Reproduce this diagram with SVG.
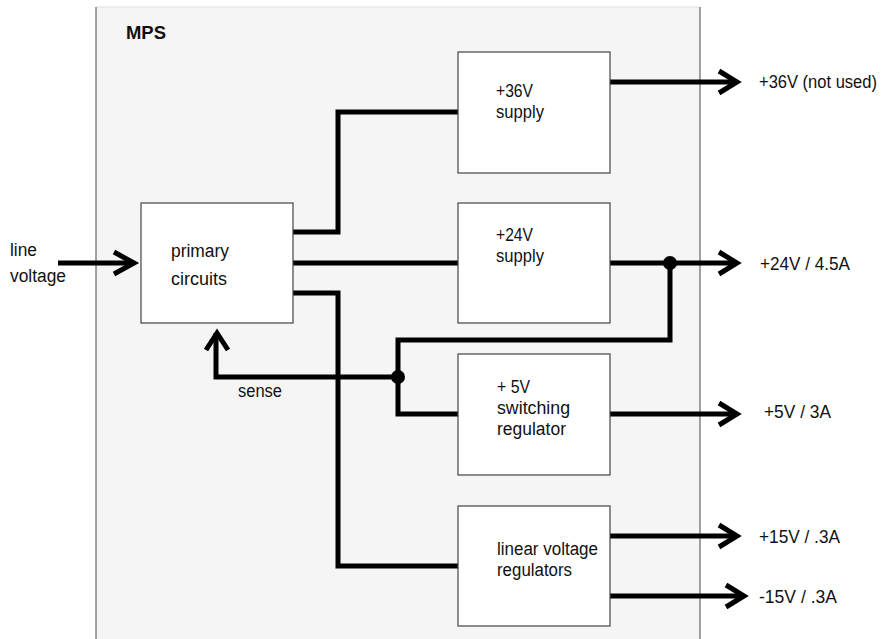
<svg xmlns="http://www.w3.org/2000/svg" width="889" height="639" viewBox="0 0 889 639">
<style>
.box{fill:#fff;stroke:#444;stroke-width:1.2}
.w{fill:none;stroke:#000;stroke-width:5;stroke-linejoin:miter}
.ah{fill:none;stroke:#000;stroke-width:5;stroke-linejoin:miter;stroke-linecap:butt}
text{font-family:"Liberation Sans",Arial,sans-serif;font-size:18px;fill:#111}
.b{font-weight:bold}
</style>
<rect width="889" height="639" fill="#fff"/>
<g id="mps">
<rect x="96" y="7" width="604" height="640" fill="#f5f5f5"/>
<line x1="96" y1="7" x2="700" y2="7" stroke="#ddd" stroke-width="1"/>
<line x1="96" y1="7" x2="96" y2="639" stroke="#666" stroke-width="1.2"/>
<line x1="700" y1="7" x2="700" y2="639" stroke="#666" stroke-width="1.2"/>
<text class="b" x="126" y="39" textLength="40" lengthAdjust="spacingAndGlyphs">MPS</text>
</g>
<g id="connectors">
<polyline class="w" points="58,263 134,263"/>
<polyline class="ah" points="114,252 134,263 114,274"/>
<polyline class="w" points="293,232 338,232 338,112 458,112"/>
<polyline class="w" points="293,263 458,263"/>
<polyline class="w" points="293,293 338,293 338,566 458,566"/>
<polyline class="w" points="610,82 737,82"/>
<polyline class="ah" points="719,71 737,82 719,93"/>
<polyline class="w" points="610,263 737,263"/>
<polyline class="ah" points="719,252 737,263 719,274"/>
<polyline class="w" points="670,263 670,340 398,340 398,414 458,414"/>
<polyline class="w" points="398,377 216,377 216,333"/>
<polyline class="ah" points="206,350 217,333 228,350"/>
<circle cx="670" cy="263" r="7" fill="#000"/>
<circle cx="398" cy="377" r="7" fill="#000"/>
<polyline class="w" points="610,414 737,414"/>
<polyline class="ah" points="719,403 737,414 719,425"/>
<polyline class="w" points="610,536 737,536"/>
<polyline class="ah" points="719,525 737,536 719,547"/>
<polyline class="w" points="610,596 744,596"/>
<polyline class="ah" points="726,585 744,596 726,607"/>
</g>
<g id="line-voltage">
<text x="10" y="256" textLength="27" lengthAdjust="spacingAndGlyphs">line</text>
<text x="10" y="282" textLength="56" lengthAdjust="spacingAndGlyphs">voltage</text>
</g>
<g id="primary">
<rect class="box" x="141" y="203" width="152" height="120"/>
<text x="171" y="257" textLength="58" lengthAdjust="spacingAndGlyphs">primary</text>
<text x="171" y="285" textLength="56" lengthAdjust="spacingAndGlyphs">circuits</text>
</g>
<g id="supply36">
<rect class="box" x="458" y="52" width="152" height="121"/>
<text x="496" y="97" textLength="37" lengthAdjust="spacingAndGlyphs">+36V</text>
<text x="496" y="118" textLength="48" lengthAdjust="spacingAndGlyphs">supply</text>
</g>
<g id="supply24">
<rect class="box" x="458" y="203" width="152" height="120"/>
<text x="496" y="241" textLength="37" lengthAdjust="spacingAndGlyphs">+24V</text>
<text x="496" y="262" textLength="48" lengthAdjust="spacingAndGlyphs">supply</text>
</g>
<g id="switching5">
<rect class="box" x="458" y="354" width="152" height="121"/>
<text x="497" y="393" textLength="33" lengthAdjust="spacingAndGlyphs">+ 5V</text>
<text x="497" y="414" textLength="73" lengthAdjust="spacingAndGlyphs">switching</text>
<text x="497" y="435" textLength="69" lengthAdjust="spacingAndGlyphs">regulator</text>
</g>
<g id="linear">
<rect class="box" x="458" y="506" width="152" height="120"/>
<text x="497" y="555" textLength="101" lengthAdjust="spacingAndGlyphs">linear voltage</text>
<text x="497" y="576" textLength="75" lengthAdjust="spacingAndGlyphs">regulators</text>
</g>
<g id="labels">
<text x="238" y="397" textLength="44" lengthAdjust="spacingAndGlyphs">sense</text>
<text x="759" y="88" textLength="118" lengthAdjust="spacingAndGlyphs">+36V (not used)</text>
<text x="760" y="270" textLength="90" lengthAdjust="spacingAndGlyphs">+24V / 4.5A</text>
<text x="764" y="418" textLength="67" lengthAdjust="spacingAndGlyphs">+5V / 3A</text>
<text x="759" y="543" textLength="81" lengthAdjust="spacingAndGlyphs">+15V / .3A</text>
<text x="759" y="603" textLength="78" lengthAdjust="spacingAndGlyphs">-15V / .3A</text>
</g>
</svg>
